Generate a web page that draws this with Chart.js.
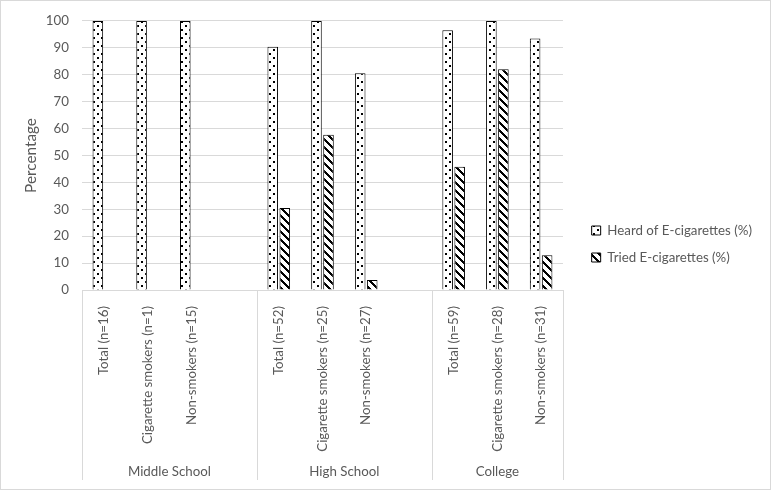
<!DOCTYPE html>
<html>
<head>
<meta charset="utf-8">
<script src="https://cdn.jsdelivr.net/npm/chart.js@4.4.1/dist/chart.umd.min.js"></script>
<style>
  html, body { margin: 0; padding: 0; background: #fff; }
  #box { width: 771px; height: 490px; }
</style>
</head>
<body>
<div id="box"><canvas id="chart" width="771" height="490"></canvas></div>
<script>
// Categories (blank slots are the gaps between school levels)
const categories = [
  'Total (n=16)', 'Cigarette smokers (n=1)', 'Non-smokers (n=15)', '',
  'Total (n=52)', 'Cigarette smokers (n=25)', 'Non-smokers (n=27)', '',
  'Total (n=59)', 'Cigarette smokers (n=28)', 'Non-smokers (n=31)'
];
const groupLabels = ['Middle School', 'High School', 'College'];
const groupSlots = [4, 4, 3];

const heardValues = [100, 100, 100, null, 90.4, 100, 80.6, null, 96.6, 100, 93.5];
const triedValues = [0, 0, 0, null, 30.5, 57.7, 3.7, null, 45.8, 82.1, 12.9];

const yTicks = [0, 10, 20, 30, 40, 50, 60, 70, 80, 90, 100];

const FONT = 'Lato';
const TEXT = '#595959';
const GRID = '#d9d9d9';

// Fill patterns like Excel's dotted and wide downward diagonal
function dotPattern() {
  const c = document.createElement('canvas');
  c.width = 8; c.height = 8;
  const g = c.getContext('2d');
  g.fillStyle = '#fff';
  g.fillRect(0, 0, 8, 8);
  g.fillStyle = '#000';
  g.fillRect(1, 1, 2, 2);
  g.fillRect(5, 5, 2, 2);
  return g.createPattern(c, 'repeat');
}

function hatchPattern() {
  const c = document.createElement('canvas');
  c.width = 8; c.height = 8;
  const g = c.getContext('2d');
  g.fillStyle = '#fff';
  g.fillRect(0, 0, 8, 8);
  g.fillStyle = '#000';
  for (let y = 0; y < 8; y++) {
    for (let k = 0; k < 3; k++) {
      g.fillRect((y + k) % 8, y, 1, 1);
    }
  }
  return g.createPattern(c, 'repeat');
}

// Group labels + separators under the category axis, and the outer border
const groupAxis = {
  id: 'groupAxis',
  afterDraw(chart) {
    const ctx = chart.ctx;
    const x = chart.scales.x;
    const area = chart.chartArea;
    const slot = x.width / categories.length;
    ctx.save();
    ctx.strokeStyle = GRID;
    ctx.lineWidth = 1;
    ctx.fillStyle = TEXT;
    ctx.font = '13.3px ' + FONT;
    ctx.textAlign = 'center';
    ctx.textBaseline = 'middle';
    let idx = 0;
    const edges = [];
    groupLabels.forEach((label, i) => {
      const left = x.getPixelForValue(idx) - slot / 2;
      const right = left + groupSlots[i] * slot;
      edges.push(left, right);
      ctx.fillText(label, (left + right) / 2, area.bottom + 182);
      idx += groupSlots[i];
    });
    [...new Set(edges.map(e => Math.round(e)))].forEach(e => {
      ctx.beginPath();
      ctx.moveTo(e + 0.5, area.bottom);
      ctx.lineTo(e + 0.5, area.bottom + 190);
      ctx.stroke();
    });
    ctx.strokeRect(0.5, 0.5, chart.width - 1, chart.height - 1);
    ctx.restore();
  }
};

const dots = dotPattern();
const hatch = hatchPattern();

new Chart(document.getElementById('chart'), {
  type: 'bar',
  data: {
    labels: categories,
    datasets: [
      {
        label: 'Heard of E-cigarettes (%)',
        data: heardValues,
        backgroundColor: dots,
        borderColor: '#000',
        borderWidth: 1,
        categoryPercentage: 0.55,
        barPercentage: 0.88
      },
      {
        label: 'Tried E-cigarettes (%)',
        data: triedValues,
        backgroundColor: hatch,
        borderColor: '#000',
        borderWidth: 1,
        categoryPercentage: 0.55,
        barPercentage: 0.88
      }
    ]
  },
  options: {
    responsive: false,
    animation: false,
    layout: { padding: { left: 0, right: 9, top: -2, bottom: 0 } },
    plugins: {
      title: { display: false },
      tooltip: { enabled: false },
      legend: {
        position: 'right',
        maxWidth: 300,
        labels: {
          boxWidth: 9,
          boxHeight: 9,
          padding: 13.7,
          color: TEXT,
          font: { family: FONT, size: 13.3 }
        }
      }
    },
    scales: {
      x: {
        grid: { display: false },
        border: { color: GRID },
        ticks: {
          autoSkip: false,
          minRotation: 90,
          maxRotation: 90,
          padding: 8,
          color: TEXT,
          font: { family: FONT, size: 13.3 }
        },
        afterFit(scale) { scale.height = 200; }
      },
      y: {
        min: 0,
        max: 100,
        afterBuildTicks(scale) { scale.ticks = yTicks.map(v => ({ value: v })); },
        grid: { color: GRID, drawTicks: false },
        border: { display: false },
        ticks: {
          padding: 13,
          color: TEXT,
          font: { family: FONT, size: 13.3 }
        },
        title: {
          display: true,
          text: 'Percentage',
          color: TEXT,
          padding: { top: 22 },
          font: { family: FONT, size: 15.3 }
        },
        afterFit(scale) { scale.width = 82; }
      },
      gap: {
        position: 'right',
        grid: { display: false },
        border: { display: false },
        ticks: { display: false },
        afterFit(scale) { scale.width = 15; }
      }
    }
  },
  plugins: [groupAxis]
});
</script>
</body>
</html>
